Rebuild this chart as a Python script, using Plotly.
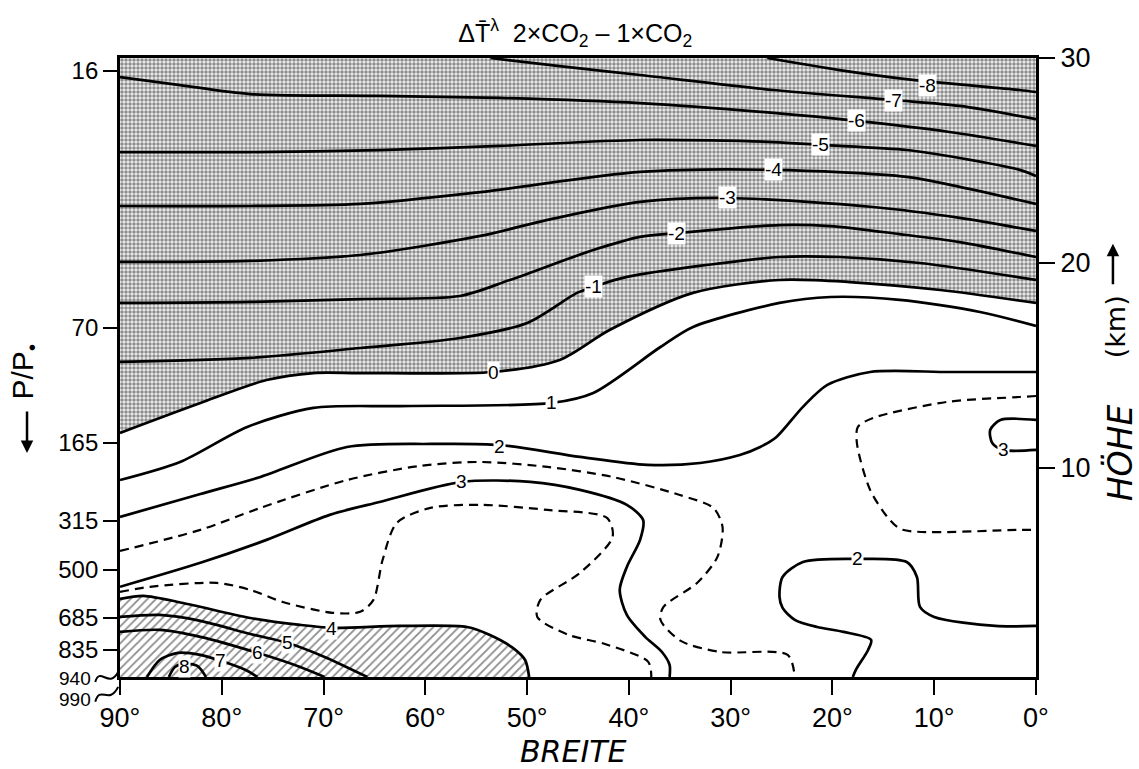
import plotly.graph_objects as go

# ---------------- data: isolines (latitude °N, height km) ----------------
iso_m8 = [(26.4, 30.0), (19.3, 29.41), (12.1, 28.93), (1.6, 28.44), (0, 28.34)]
iso_m7 = [(53.6, 30.0), (46.8, 29.6), (38.9, 29.17), (25.8, 28.44), (14.05, 27.95), (7.5, 27.66), (0, 27.02)]
iso_m6 = [(90, 29.07), (84.1, 28.68), (77.2, 28.24), (64.5, 28.15), (52.7, 28.05), (38.9, 27.8),
          (25.8, 27.32), (17.6, 26.93), (8.5, 26.39), (0, 25.71)]
iso_m5 = [(90, 25.41), (77.2, 25.41), (64.5, 25.51), (52.7, 25.71), (38.9, 26.0), (25.8, 25.9),
          (21.2, 25.76), (12.7, 25.51), (7.5, 25.12), (1.6, 24.54), (0, 24.24)]
iso_m4 = [(90, 22.78), (77.2, 22.78), (66.4, 22.88), (54.6, 23.46), (38.9, 24.44), (25.8, 24.54),
          (12.7, 24.2), (7.5, 23.71), (0, 22.88)]
iso_m3 = [(90, 20.05), (77.2, 20.1), (66.4, 20.39), (54.6, 21.32), (48.0, 22.1), (38.9, 22.98),
          (30.3, 23.17), (16.0, 22.73), (7.5, 22.2), (0, 21.56)]
iso_m2 = [(90, 18.05), (77.2, 18.1), (66.4, 18.24), (56.6, 18.39), (51.7, 19.17), (43.5, 20.63),
          (38.9, 21.27), (35.3, 21.46), (25.2, 21.85), (20.2, 21.8), (13.4, 21.41), (7.5, 21.02), (0, 20.29)]
iso_m1 = [(90, 15.17), (77.2, 15.37), (66.4, 15.85), (56.6, 16.34), (50.0, 17.07), (45.1, 18.54),
          (43.5, 18.83), (40.2, 19.32), (25.2, 20.29), (19.3, 20.29), (11.4, 20.0), (0, 19.17)]
iso_0 = [(90, 11.71), (82.1, 13.17), (75.6, 14.29), (71.0, 14.63), (66.4, 14.63), (53.4, 14.68),
         (46.8, 15.27), (41.9, 16.73), (33.7, 18.54), (25.2, 19.17), (18.3, 19.07), (9.4, 18.68), (0, 18.05)]
iso_1 = [(90, 9.41), (84.1, 10.29), (77.5, 12.0), (71.0, 12.93), (62.5, 13.02), (47.6, 13.17),
         (43.5, 13.66), (36.9, 15.9), (33.7, 16.88), (25.2, 18.05), (20.2, 18.34), (13.4, 18.2),
         (5.5, 17.61), (0, 16.93)]
iso_2 = [(90, 7.61), (82.1, 8.73), (76.2, 9.56), (67.7, 11.02), (59.5, 11.17), (52.7, 11.12),
         (44.8, 10.54), (38.2, 10.15), (33.0, 10.24), (29.1, 10.63), (27.1, 11.02), (25.5, 11.51),
         (22.9, 12.98), (20.5, 14.05), (16.3, 14.68), (8.5, 14.68), (0, 14.68)]
iso_2_low = [(18.0, -0.2), (17.7, 0.15), (16.5, 1.12), (16.2, 1.61), (18.9, 2.0), (21.5, 2.24),
             (23.7, 2.59), (24.9, 3.17), (25.2, 3.71), (24.9, 4.68), (22.9, 5.41), (17.5, 5.56),
             (12.7, 5.41), (11.7, 4.68), (11.4, 3.22), (10.0, 2.73), (4.0, 2.29), (0, 2.29)]
iso_3 = [(90, 4.2), (82.1, 5.37), (75.6, 6.49), (69.4, 7.71), (64.5, 8.34), (56.4, 9.32), (49.7, 9.32),
         (44.8, 8.93), (40.2, 8.2), (38.6, 7.46), (38.9, 6.49), (40.2, 5.17), (40.9, 4.05), (40.2, 2.83),
         (38.4, 1.76), (36.75, 1.02), (36.0, 0.39), (36.0, -0.2)]
iso_3_trop = [(0, 12.34), (3.5, 12.34), (4.5, 11.85), (4.3, 11.22), (3.2, 10.88), (0, 10.88)]
iso_4 = [(90, 3.61), (87.7, 3.76), (83.8, 3.41), (77.2, 2.68), (72.3, 2.34), (69.1, 2.2), (62.5, 2.29),
         (55.9, 2.24), (53.65, 1.85), (51.4, 1.22), (50.2, 0.63), (49.8, -0.2)]
iso_5 = [(90, 2.73), (86.1, 2.83), (82.1, 2.54), (77.2, 1.9), (73.5, 1.46), (69.9, 0.78), (65.7, -0.2)]
iso_6 = [(90, 2.0), (86.1, 2.1), (82.1, 1.76), (76.5, 0.98), (72.3, 0.29), (69.9, -0.2)]
iso_7 = [(87.35, -0.2), (86.1, 0.63), (84.3, 0.98), (82.1, 0.88), (80.1, 0.59), (77.7, 0.15), (76.5, -0.2)]
iso_8 = [(85.2, -0.2), (84.6, 0.29), (83.6, 0.44), (82.4, 0.34), (81.55, -0.2)]
# dashed half-degree isolines (2.5 and 3.5)
iso_2h = [(90, 5.95), (82.1, 6.98), (76.2, 8.05), (67.7, 9.41), (60.5, 10.1), (54.6, 10.29), (48.0, 10.05),
          (41.6, 9.56), (35.0, 8.68), (31.7, 8.05), (30.8, 7.12), (31.3, 5.66), (33.3, 4.39), (36.6, 3.22),
          (36.9, 2.59), (34.9, 1.56), (31.0, 1.02), (24.4, 0.88), (23.7, -0.2)]
iso_2h_trop = [(0, 13.51), (1.6, 13.46), (8.75, 13.22), (16.0, 12.44), (17.5, 12.0), (17.6, 11.22),
               (16.3, 8.93), (14.35, 7.46), (13.1, 6.98), (1.6, 6.98), (0, 6.98)]
iso_3h = [(90, 3.95), (87.05, 4.2), (80.5, 4.39), (77.2, 4.05), (74.0, 3.46), (69.1, 2.93), (66.4, 2.98),
          (65.1, 3.56), (64.2, 5.51), (62.8, 7.32), (59.5, 8.05), (54.6, 8.2), (48.0, 7.95), (42.15, 7.56),
          (41.6, 6.63), (44.8, 4.88), (48.7, 3.56), (49.0, 2.73), (45.9, 1.85), (42.35, 1.41), (38.1, 0.54),
          (37.8, -0.2)]

# contour labels
label_text = ["-8", "-7", "-6", "-5", "-4", "-3", "-2", "-1", "0", "1", "2", "3", "3", "2", "4", "5", "6", "7", "8"]
label_lat = [10.7, 14.05, 17.6, 21.2, 25.8, 30.3, 35.3, 43.5, 53.35, 47.6, 52.7, 56.4, 3.2, 17.5, 69.2, 73.5, 76.5, 80.1, 83.7]
label_km = [28.68, 27.95, 26.93, 25.76, 24.54, 23.17, 21.46, 18.83, 14.68, 13.17, 11.07, 9.32, 10.88, 5.56, 2.15, 1.46, 0.98, 0.59, 0.29]

# axes
lat_ticks = [90, 80, 70, 60, 50, 40, 30, 20, 10, 0]
p_labels = ["16", "70", "165", "315", "500", "685", "835"]
p_km = [29.37, 16.83, 11.22, 7.41, 5.02, 2.68, 1.12]
p_ground_labels = ["940", "990"]
km_ticks = [10, 20, 30]

solid_lines = [iso_m8, iso_m7, iso_m6, iso_m5, iso_m4, iso_m3, iso_m2, iso_m1, iso_0, iso_1, iso_2,
               iso_2_low, iso_3, iso_3_trop, iso_4, iso_5, iso_6, iso_7, iso_8]
dashed_lines = [iso_2h, iso_2h_trop, iso_3h]

FONT = "Liberation Sans Narrow, Liberation Sans, Arial, sans-serif"
HAND = "DejaVu Sans, sans-serif"
YR = [-0.2, 30.0]

fig = go.Figure()

# stippled region (negative change): above the zero line
neg = iso_0 + [(-3, iso_0[-1][1]), (-3, 33), (93, 33), (93, iso_0[0][1])]
fig.add_trace(go.Scatter(
    x=[p[0] for p in neg], y=[p[1] for p in neg], mode="lines", fill="toself",
    line=dict(width=0, shape="spline", smoothing=0.8), fillcolor="#cfcfcf",
    fillpattern=dict(shape=".", size=4, solidity=0.6, fgcolor="#2a2a2a", bgcolor="#f0f0f0"),
    hoverinfo="skip", showlegend=False))

# hatched region (> 4 K)
warm = iso_4 + [(iso_4[-1][0], -2), (93, -2), (93, iso_4[0][1])]
fig.add_trace(go.Scatter(
    x=[p[0] for p in warm], y=[p[1] for p in warm], mode="lines", fill="toself",
    line=dict(width=0, shape="spline", smoothing=0.8), fillcolor="rgba(0,0,0,0)",
    fillpattern=dict(shape="/", size=6, solidity=0.3, fgcolor="#1a1a1a"),
    hoverinfo="skip", showlegend=False))

for ln in solid_lines:
    fig.add_trace(go.Scatter(x=[p[0] for p in ln], y=[p[1] for p in ln], mode="lines",
                             line=dict(color="black", width=2.7, shape="spline", smoothing=0.8),
                             hoverinfo="skip", showlegend=False))
for ln in dashed_lines:
    fig.add_trace(go.Scatter(x=[p[0] for p in ln], y=[p[1] for p in ln], mode="lines",
                             line=dict(color="black", width=2.2, dash="9px,6px", shape="spline", smoothing=0.8),
                             hoverinfo="skip", showlegend=False))

# dummy trace so the right-hand height axis is drawn
fig.add_trace(go.Scatter(x=[45], y=[15], yaxis="y2", mode="markers", marker=dict(opacity=0),
                         hoverinfo="skip", showlegend=False))

annotations = []
for t, la, k in zip(label_text, label_lat, label_km):
    annotations.append(dict(x=la, y=k, xref="x", yref="y", text=t, showarrow=False,
                            xanchor="center", yanchor="middle",
                            font=dict(family=FONT, size=19, color="black"),
                            bgcolor="white", borderpad=0))

# pressure labels at the ground (below the last ticked level, with break marks)
for t, yp in zip(p_ground_labels, [-0.003, -0.036]):
    annotations.append(dict(x=-0.030, y=yp, xref="paper", yref="paper", text=t, showarrow=False,
                            xanchor="right", yanchor="middle",
                            font=dict(family=FONT, size=19, color="black")))

# axis titles
annotations += [
    dict(x=0.495, y=-0.121, xref="paper", yref="paper", text="<i>BREITE</i>", showarrow=False,
         xanchor="center", yanchor="middle",
         font=dict(family=HAND, size=30, color="black")),
    dict(x=1.092, y=0.362, xref="paper", yref="paper", text="<i>HÖHE</i>", showarrow=False, textangle=-90,
         xanchor="center", yanchor="middle",
         font=dict(family=HAND, size=33, color="black")),
    dict(x=1.087, y=0.566, xref="paper", yref="paper", text="(km)", showarrow=False, textangle=-90,
         xanchor="center", yanchor="middle",
         font=dict(family=HAND, size=27, color="black")),
    dict(x=1.084, y=0.700, xref="paper", yref="paper", text="", showarrow=True, ax=0, ay=42,
         arrowhead=2, arrowsize=1, arrowwidth=2.5, arrowcolor="black"),
    dict(x=-0.104, y=0.493, xref="paper", yref="paper", text="P/P<sub>•</sub>", showarrow=False, textangle=-90,
         xanchor="center", yanchor="middle",
         font=dict(family=FONT, size=30, color="black")),
    dict(x=-0.1015, y=0.362, xref="paper", yref="paper", text="", showarrow=True, ax=0, ay=-43,
         arrowhead=2, arrowsize=1, arrowwidth=2.5, arrowcolor="black"),
]

shapes = [
    dict(type="path", xref="paper", yref="paper",
         path="M -0.027 -0.008 C -0.022 0.018, -0.012 -0.020, -0.002 0.008",
         line=dict(color="black", width=2)),
    dict(type="path", xref="paper", yref="paper",
         path="M -0.027 -0.040 C -0.022 -0.012, -0.012 -0.046, -0.002 -0.016",
         line=dict(color="black", width=2)),
]

fig.update_layout(
    width=1139, height=769, autosize=False,
    margin=dict(l=120, r=103, t=58, b=92),
    paper_bgcolor="white", plot_bgcolor="white",
    showlegend=False,
    title=dict(text="ΔT̄<sup>λ</sup>  2×CO<sub>2</sub> – 1×CO<sub>2</sub>", x=0.505, xanchor="center",
               y=0.957, yanchor="middle", font=dict(family="Liberation Sans, Arial, sans-serif", size=25, color="black")),
    xaxis=dict(range=[90, 0], tickvals=lat_ticks, ticktext=[f"{v}°" for v in lat_ticks],
               showline=True, mirror=True, linewidth=2.8, linecolor="black",
               ticks="outside", ticklen=15, tickwidth=2, tickcolor="black",
               showgrid=False, zeroline=False, tickfont=dict(family=FONT, size=27, color="black")),
    yaxis=dict(range=YR, tickvals=p_km, ticktext=p_labels,
               showline=True, mirror=True, linewidth=2.8, linecolor="black",
               ticks="outside", ticklen=14, tickwidth=2, tickcolor="black",
               showgrid=False, zeroline=False, tickfont=dict(family=FONT, size=24, color="black")),
    yaxis2=dict(range=YR, overlaying="y", side="right", tickvals=km_ticks, ticktext=[str(v) for v in km_ticks],
                ticks="outside", ticklen=18, tickwidth=2, tickcolor="black",
                showline=False, showgrid=False, zeroline=False,
                tickfont=dict(family=FONT, size=27, color="black")),
    annotations=annotations,
    shapes=shapes,
)

fig.write_html("out.html")
